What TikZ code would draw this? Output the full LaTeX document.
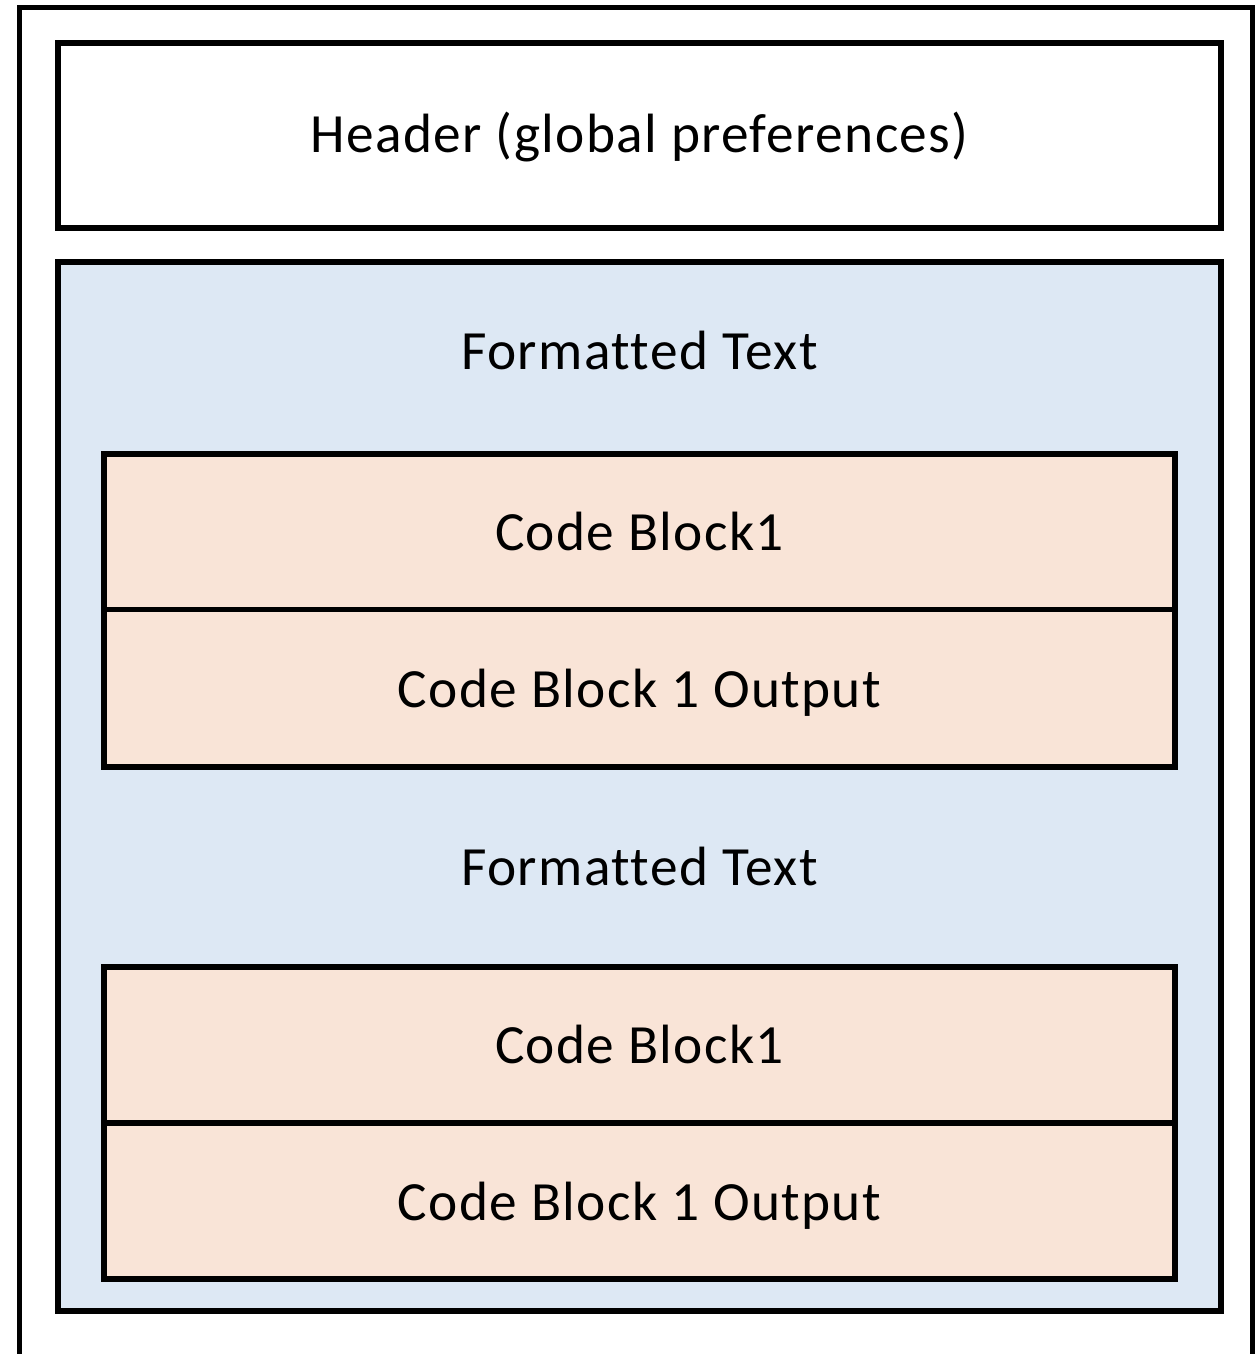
\documentclass[tikz,border=0pt]{standalone}
\usepackage{fontspec}
\setmainfont{Carlito}[LetterSpace=2.5,Ligatures={NoCommon,NoContextual}]
\usetikzlibrary{positioning}

\definecolor{textblue}{HTML}{DDE8F4}
\definecolor{codeorange}{HTML}{F9E4D7}

\tikzset{
  frame/.style={draw=black,line width=2.9pt},
  label/.style={font=\fontsize{31.5}{38}\selectfont,inner sep=0pt,anchor=base}
}

\begin{document}
\begin{tikzpicture}[x=0.02cm,y=-0.02cm]
    \useasboundingbox (0,0) rectangle (1258,1354);
    % outer page
    \draw[frame] (19.5,1400) -- (19.5,7.5) -- (1252.5,7.5) -- (1252.5,1400);
    % header
    \draw[frame,fill=white] (58,43) rectangle (1221,228);
    \node[label] (header) at (639.5,153) {Header (global preferences)};
    % notebook body
    \draw[frame,fill=textblue] (58,262) rectangle (1221,1311);
    \node[label] (text1) at (639.5,370) {Formatted Text};
    \node[label] (text2) at (639.5,885) {Formatted Text};
    % first code block
    \draw[frame,fill=codeorange] (104,454) rectangle (1175,767);
    \draw[frame] (104,609.5) -- (1175,609.5);
    \node[label] (code1) at (639.5,550) {Code Block1};
    \node[label] (out1) at (639.5,707) {Code Block 1 Output};
    % second code block
    \draw[frame,fill=codeorange] (104,967) rectangle (1175,1279);
    \draw[frame] (104,1123) -- (1175,1123);
    \node[label] (code2) at (639.5,1063) {Code Block1};
    \node[label] (out2) at (639.5,1220) {Code Block 1 Output};
\end{tikzpicture}
\end{document}
